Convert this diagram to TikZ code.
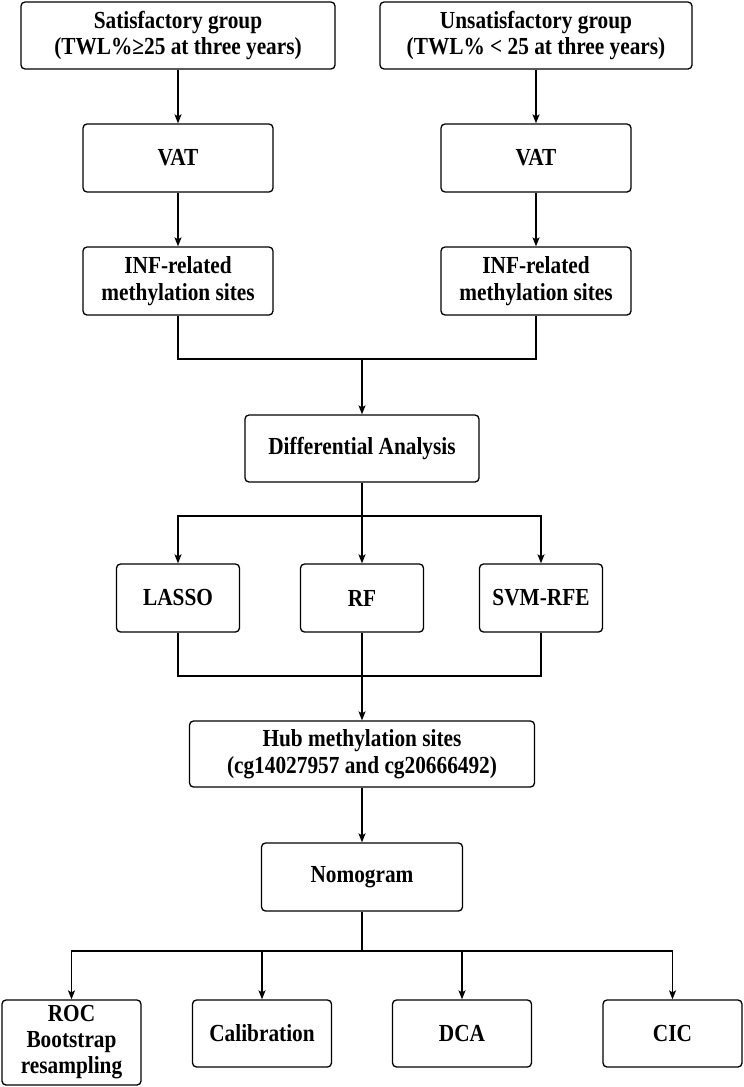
\documentclass[tikz,border=0pt]{standalone}
\usepackage{fontspec}
\setmainfont{Liberation Serif}[FakeStretch=0.87]
\usetikzlibrary{arrows.meta}
\begin{document}
\begin{tikzpicture}[x=1pt,y=-1pt,
  box/.style={draw, line width=1.3pt, rounded corners=4pt, inner sep=0pt,
    align=center, font=\fontsize{24.5}{26.5}\selectfont\bfseries, minimum height=67pt},
  conn/.style={line width=1.3pt},
  arr/.style={conn, -{Stealth[length=9pt,width=7pt,inset=2pt]}}]
\useasboundingbox (0,0) rectangle (744,1087);
\node[box, minimum width=314pt] (tl) at (178,35.5) {Satisfactory group\\(TWL\%≥25 at three years)};
\node[box, minimum width=312pt] (tr) at (536,35.5) {Unsatisfactory group\\(TWL\% < 25 at three years)};
\node[box, minimum width=190pt, minimum height=68pt] (vatl) at (178,158) {VAT};
\node[box, minimum width=190pt, minimum height=68pt] (vatr) at (536,158) {VAT};
\node[box, minimum width=190pt, minimum height=68pt] (infl) at (178,281) {INF-related\\methylation sites};
\node[box, minimum width=190pt, minimum height=68pt] (infr) at (536,281) {INF-related\\methylation sites};
\node[box, minimum width=234pt] (diff) at (362,448.5) {Differential Analysis};
\node[box, minimum width=123pt, minimum height=68pt] (lasso) at (178,598) {LASSO};
\node[box, minimum width=123pt, minimum height=68pt] (rf) at (362,598) {RF};
\node[box, minimum width=123pt, minimum height=68pt] (svm) at (541,598) {SVM-RFE};
\node[box, minimum width=345pt, minimum height=66pt] (hub) at (362,754) {Hub methylation sites\\(cg14027957 and cg20666492)};
\node[box, minimum width=201pt, minimum height=68pt] (nomo) at (362,877) {Nomogram};
\node[box, minimum width=139pt, minimum height=85pt, font=\fontsize{24.5}{26}\selectfont\bfseries] (roc) at (71.5,1042.5) {ROC\\Bootstrap\\resampling};
\node[box, minimum width=139pt] (cal) at (262,1033.5) {Calibration};
\node[box, minimum width=139pt] (dca) at (462,1033.5) {DCA};
\node[box, minimum width=139pt] (cic) at (672.5,1033.5) {CIC};
\coordinate (m1) at (362,359);
\coordinate (s1) at (362,516);
\coordinate (m2) at (362,676);
\coordinate (s2) at (362,951);
\draw[arr] (tl) -- (vatl);
\draw[arr] (tr) -- (vatr);
\draw[arr] (vatl) -- (infl);
\draw[arr] (vatr) -- (infr);
\draw[conn] (infl.south) |- (m1);
\draw[conn] (infr.south) |- (m1);
\draw[arr] (m1) -- (diff);
\draw[conn] (diff.south) -- (s1);
\draw[arr] (s1) -| (lasso.north);
\draw[arr] (s1) -- (rf.north);
\draw[arr] (s1) -| (svm.north);
\draw[conn] (lasso.south) |- (m2);
\draw[conn] (svm.south) |- (m2);
\draw[conn] (rf.south) -- (m2);
\draw[arr] (m2) -- (hub);
\draw[arr] (hub) -- (nomo);
\draw[conn] (nomo.south) -- (s2);
\draw[arr] (s2) -| (roc.north);
\draw[arr] (s2) -| (cal.north);
\draw[arr] (s2) -| (dca.north);
\draw[arr] (s2) -| (cic.north);
\end{tikzpicture}
\end{document}
